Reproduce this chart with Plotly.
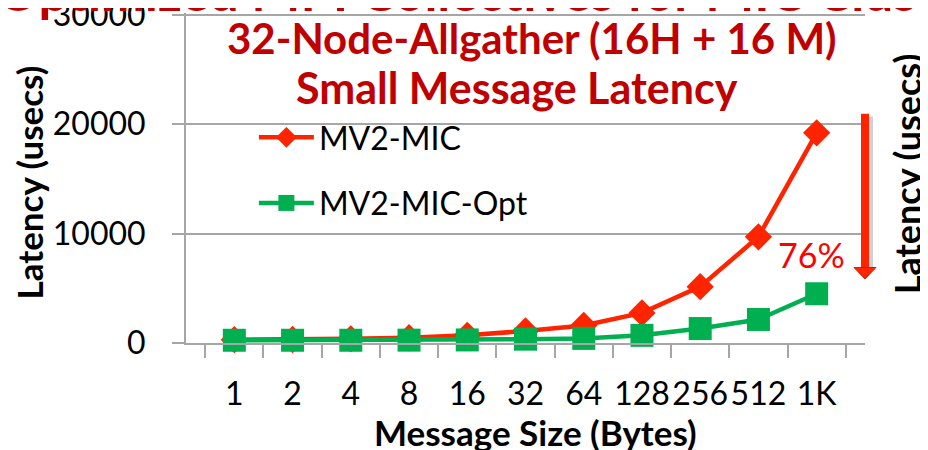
import plotly.graph_objects as go

# message sizes on the x axis
sizes = ["1", "2", "4", "8", "16", "32", "64", "128", "256", "512", "1K"]

# latency in usecs
mv2_mic = [300, 320, 380, 480, 700, 1100, 1600, 2750, 5150, 9700, 19200]
mv2_mic_opt = [250, 250, 250, 260, 280, 350, 420, 700, 1320, 2150, 4500]

y_ticks = [0, 10000, 20000, 30000]

FONT = "Lato"
RED = "#FF2400"
GREEN = "#00B050"
DARKRED = "#C00000"
GRID = "#A6A6A6"

fig = go.Figure()
fig.add_trace(go.Scatter(
    x=sizes, y=mv2_mic, name="MV2-MIC", legendgroup="a",
    mode="lines+markers", cliponaxis=False,
    line=dict(color=RED, width=4.5),
    marker=dict(symbol="diamond", size=21, color=RED),
))
fig.add_trace(go.Scatter(
    x=sizes, y=mv2_mic_opt, name="MV2-MIC-Opt", legendgroup="b",
    mode="lines+markers", cliponaxis=False,
    line=dict(color=GREEN, width=4.5),
    marker=dict(symbol="square", size=23, color=GREEN),
))

# red arrow showing the 76% drop (shadow, shaft, head)
fig.add_shape(type="line", xref="paper", yref="y", x0=1.006, x1=1.006,
              y0=20700, y1=6700, line=dict(color="rgba(0,0,0,0.18)", width=8))
fig.add_shape(type="line", xref="paper", yref="y", x0=1.0, x1=1.0,
              y0=20950, y1=6900, line=dict(color=RED, width=8))
fig.add_shape(type="path", xref="paper", yref="y",
              path="M 0.9838 6900 L 1.0162 6900 L 1.0 5850 Z",
              fillcolor=RED, line=dict(color="#D01E00", width=1))

annos = [
    dict(text="32-Node-Allgather (16H + 16 M)", x=0.51, y=0.924,
         font=dict(size=42, color=DARKRED, family=FONT, weight="bold")),
    dict(text="Small Message Latency", x=0.487, y=0.773,
         font=dict(size=43, color=DARKRED, family=FONT, weight="bold")),
    dict(text="76%", x=0.9735, y=0.267, xanchor="right",
         font=dict(size=34, color="#FF0000", family=FONT)),
    # axis titles
    dict(text="Latency (usecs)", x=-0.231, y=0.487, textangle=-90,
         font=dict(size=35, color="black", family=FONT, weight="bold")),
    dict(text="Message Size (Bytes)", x=0.514, y=-0.27,
         font=dict(size=35, color="black", family=FONT, weight="bold")),
    # pieces of the neighbouring slide content, cut off at the edges
    dict(text="Latency (usecs)", x=1.062, y=0.512, textangle=-90,
         font=dict(size=36, color="black", family=FONT, weight="bold")),
    dict(text="Optimized MPI Collectives for MIC Clusters", x=-0.281, y=0.968,
         xanchor="left", yanchor="bottom",
         font=dict(size=52, color=DARKRED, family=FONT, weight="bold")),
]
for a in annos:
    a.setdefault("xanchor", "center")
    a.setdefault("yanchor", "middle")
    fig.add_annotation(xref="paper", yref="paper", showarrow=False, **a)

fig.update_layout(
    width=928, height=450,
    margin=dict(l=178, r=71, t=5, b=115, autoexpand=False),
    paper_bgcolor="white", plot_bgcolor="white",
    font=dict(family=FONT, color="black"),
    showlegend=True,
    legend=dict(x=0.1, y=0.706, xanchor="left", yanchor="top",
                font=dict(size=32), bgcolor="rgba(0,0,0,0)",
                itemwidth=55, tracegroupgap=21),
    xaxis=dict(
        type="category", showline=True, linecolor=GRID, linewidth=2,
        ticks="outside", tickson="boundaries", ticklen=13,
        tickcolor=GRID, tickwidth=2, showgrid=False, automargin=False,
        tickangle=0, tickfont=dict(size=32), ticklabelstandoff=22,
    ),
    yaxis=dict(
        range=[0, 30150], tickvals=y_ticks, tickformat="d",
        showline=True, linecolor=GRID, automargin=False,
        linewidth=2, ticks="outside", ticklen=12, tickcolor=GRID,
        tickwidth=2, showgrid=True, gridcolor=GRID, gridwidth=2,
        zeroline=False, tickfont=dict(size=32), ticklabelstandoff=20,
        ticklabeloverflow="allow",
    ),
)

fig.write_html("out.html")
